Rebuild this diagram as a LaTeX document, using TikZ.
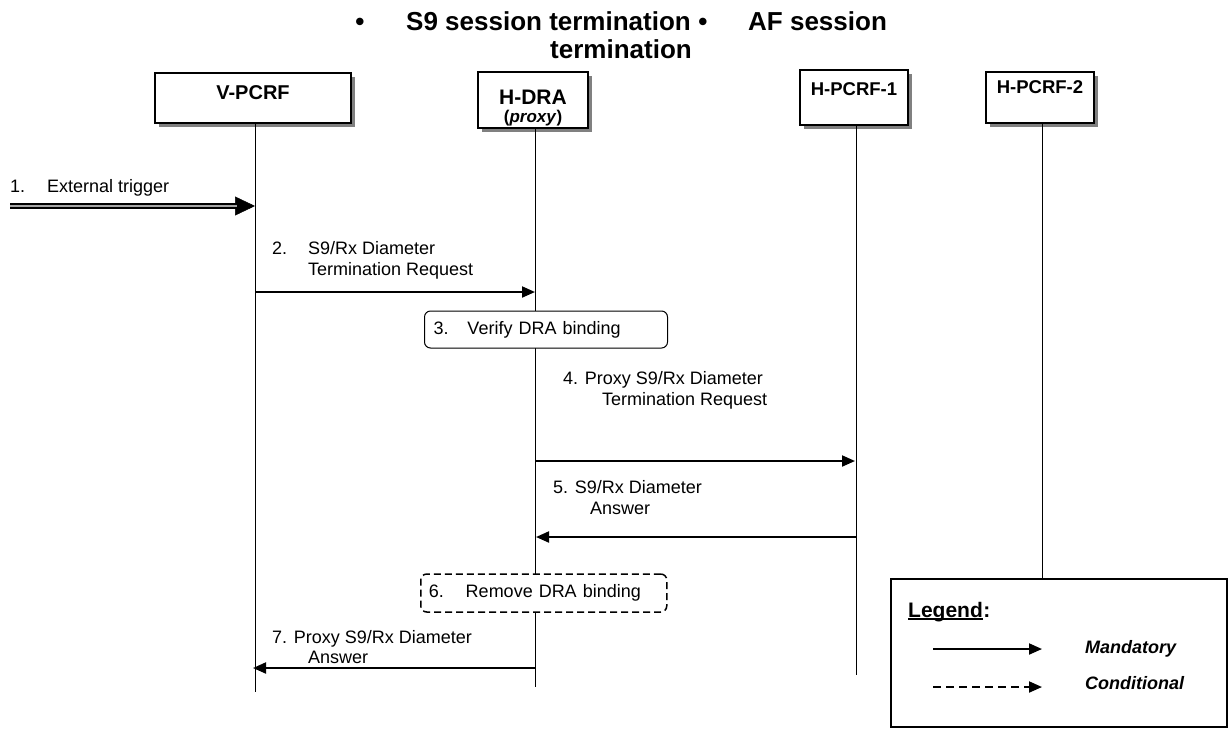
\documentclass[tikz,border=0pt]{standalone}
\usepackage{fontspec}
\setmainfont{Liberation Sans}
\usetikzlibrary{arrows.meta,shadows}
\begin{document}
\begin{tikzpicture}[x=1pt,y=-1pt,
  ent/.style={draw, line width=1.2pt, fill=white, inner sep=0pt,
    drop shadow={shadow xshift=4pt, shadow yshift=-4pt, fill=black!50, opacity=1}},
  life/.style={line width=1pt},
  msg/.style={line width=2pt, -{Triangle[length=13pt,width=11pt]}},
  txt/.style={font=\fontsize{18}{21}\selectfont, inner sep=0pt, anchor=base west},
  ttl/.style={font=\fontsize{26}{28}\selectfont\bfseries, inner sep=0pt, anchor=base west},
  proc/.style={draw, line width=1pt, rounded corners=6pt, fill=white, minimum height=37pt,
    inner ysep=0pt, font=\fontsize{18}{21}\selectfont, anchor=west, align=left},
  legtxt/.style={font=\fontsize{18}{21}\selectfont\bfseries\itshape, inner sep=0pt, anchor=base west},
]
\useasboundingbox (0,0) rectangle (1230,729);

% title
\node[ttl, anchor=base] (bu1) at (360,30) {\textbullet};
\node[ttl] (t1) at (406,30) {S9 session termination};
\node[ttl, anchor=base] (bu2) at (703,30) {\textbullet};
\node[ttl] (t2) at (748,30) {AF session};
\node[ttl] (t3) at (550,58) {termination};

% lifeline ends
\coordinate (vpl) at (255,692);
\coordinate (drl) at (535,687);
\coordinate (p1l) at (856,675);
\coordinate (p2l) at (1042,579);

% entities
\node[ent, minimum width=196pt, minimum height=50pt, text depth=10pt,
  font=\fontsize{20}{24}\selectfont\bfseries] (vp) at (253,98) {V-PCRF};
\node[ent, minimum width=110pt, minimum height=56pt, align=center,
  font=\fontsize{21}{18}\selectfont\bfseries] (dr) at (533,100)
  {\rule{0pt}{31pt}H-DRA\\{\fontsize{17}{18}\selectfont(\textit{proxy})}};
\node[ent, minimum width=108pt, minimum height=55pt, text depth=16pt,
  font=\fontsize{18.5}{22}\selectfont\bfseries] (p1) at (854,97.5) {H-PCRF-1};
\node[ent, minimum width=108pt, minimum height=51pt, text depth=20pt,
  font=\fontsize{18.5}{22}\selectfont\bfseries] (p2) at (1040,97.5) {H-PCRF-2};

% legend box
\node[draw, line width=1.8pt, fill=white, minimum width=336pt, minimum height=148pt, inner sep=0pt] (leg) at (1059,653) {};

% lifelines
\draw[life] (vp.south -| vpl) -- (vpl);
\draw[life] (dr.south -| drl) -- (drl);
\draw[life] (p1.south -| p1l) -- (p1l);
\draw[life] (p2.south -| p2l) -- (p2l |- leg.north);

% step 1
\node[txt] (n1a) at (10,192) {1.};
\node[txt] (n1b) at (47,192) {External trigger};
\coordinate (ext) at (10,206);
\coordinate (v1) at (255,206);
\draw[line width=0.5pt, -{Triangle[length=20pt,width=19pt]}] (ext) -- (v1);
\draw[double=black!35, line width=2pt, double distance=2.5pt, shorten >=18pt] (ext) -- (v1);

% step 2
\node[txt] (n2a) at (272,254) {2.};
\node[txt] (n2b) at (308,254) {S9/Rx Diameter};
\node[txt] (n2c) at (308,275) {Termination Request};
\coordinate (v2) at (255,292);
\coordinate (d2) at (535,292);
\draw[msg] (v2) -- (d2);

% step 3
\node[proc, inner xsep=9pt, text width=225pt] (b3) at (424,329.5)
  {\makebox[34pt][l]{3.}Verify DRA binding};

% step 4
\node[txt] (n4a) at (563,384) {4. Proxy S9/Rx Diameter};
\node[txt] (n4b) at (602,405) {Termination Request};
\coordinate (d4) at (535,461);
\coordinate (p4) at (855,461);
\draw[msg] (d4) -- (p4);

% step 5
\node[txt] (n5a) at (553,493) {5. S9/Rx Diameter};
\node[txt] (n5b) at (590,514) {Answer};
\coordinate (p5) at (856,537);
\coordinate (d5) at (536,537);
\draw[msg] (p5) -- (d5);

% step 6
\node[proc, dash pattern=on 7pt off 4pt, line width=1.5pt, inner xsep=8pt, text width=230pt, minimum height=38pt] (b6) at (420,593)
  {\makebox[37pt][l]{6.}Remove DRA binding};

% step 7
\node[txt] (n7a) at (272,643) {7. Proxy S9/Rx Diameter};
\node[txt] (n7b) at (308,663) {Answer};
\coordinate (d7) at (535,668);
\coordinate (v7) at (253,668);
\draw[msg] (d7) -- (v7);

% legend contents
\node[anchor=base west, inner sep=0pt, font=\fontsize{21}{24}\selectfont\bfseries] (lgw) at (908,617) {Legend};
\node[anchor=base west, inner sep=0pt, font=\fontsize{21}{24}\selectfont\bfseries] (lgc) at (lgw.base east) {:};
\draw[line width=1.5pt] ([yshift=-2pt]lgw.base west) -- ([yshift=-2pt]lgw.base east);
\coordinate (m1) at (933,649);
\coordinate (m2) at (1042,649);
\coordinate (c1) at (933,687);
\coordinate (c2) at (1042,687);
\draw[msg] (m1) -- (m2);
\draw[msg, dash pattern=on 8pt off 5pt] (c1) -- (c2);
\node[legtxt] (mand) at (1085,653) {Mandatory};
\node[legtxt] (cond) at (1085,689) {Conditional};
\end{tikzpicture}
\end{document}
